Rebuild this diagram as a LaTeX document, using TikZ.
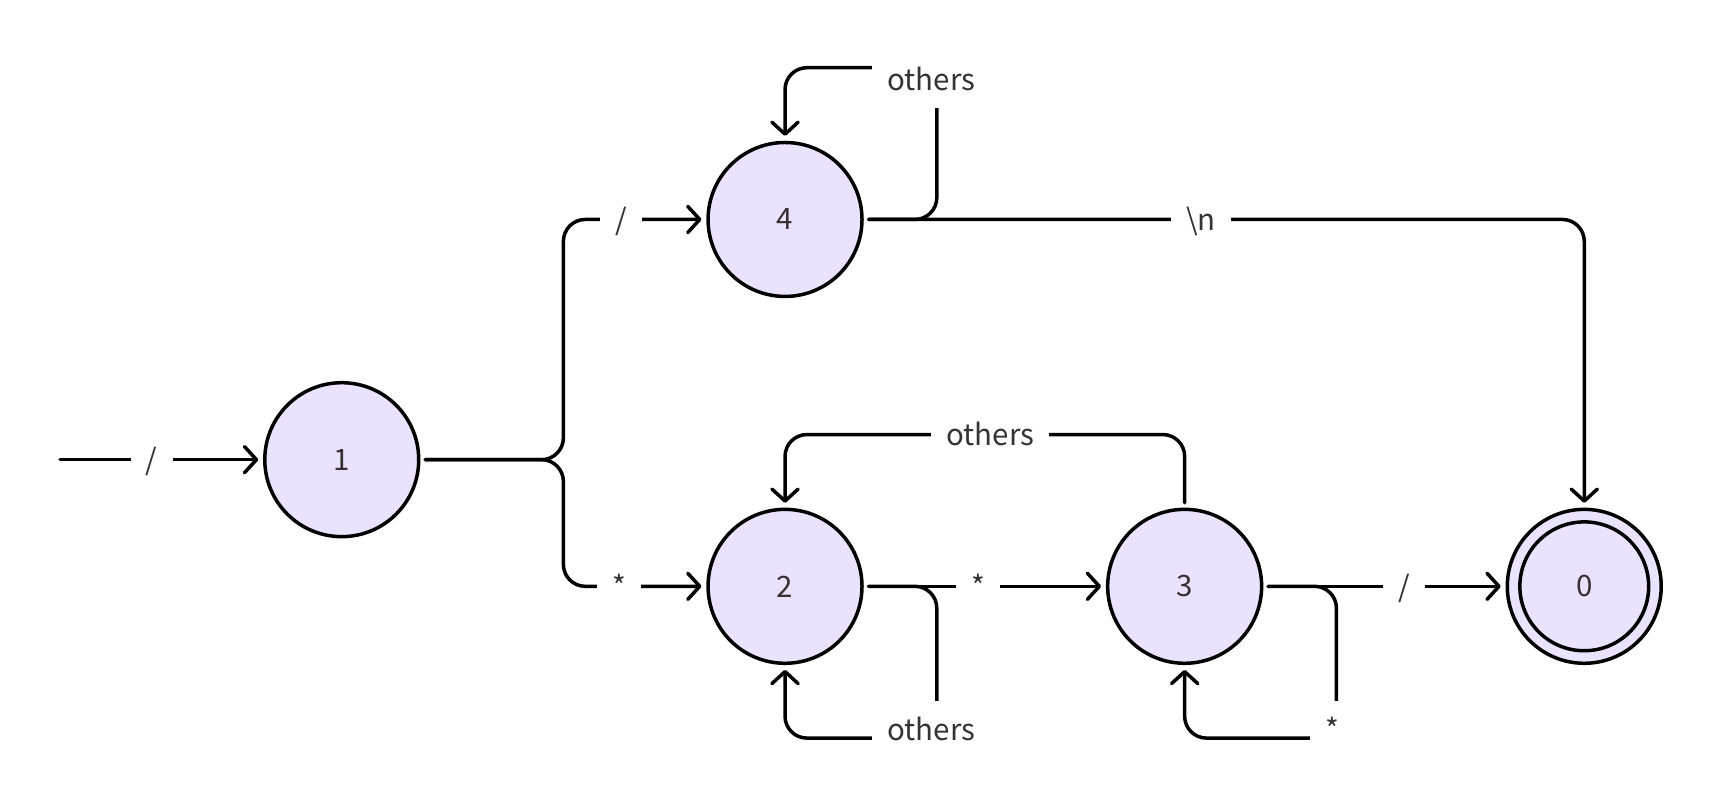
\documentclass[tikz,border=0pt]{standalone}
\usepackage{fontspec}
\setmainfont{Noto Sans CJK SC}
\usetikzlibrary{arrows.meta}
\definecolor{statefill}{RGB}{233,227,255}
\definecolor{txt}{RGB}{51,51,51}
\begin{document}
\begin{tikzpicture}[x=1pt,y=-1pt,
  state/.style={circle, draw, line width=3.2pt, fill=statefill, minimum size=141pt, inner sep=0pt, outer sep=6pt, text=txt, font=\fontsize{27}{32}\selectfont},
  edge/.style={line width=3.2pt, rounded corners=20pt, line cap=round, -{Straight Barb[length=11pt,width=24pt,line cap=round,line join=round]}},
  lbl/.style={fill=white, text=txt, inner xsep=14pt, inner ysep=14pt, text height=22pt, text depth=2pt, font=\fontsize{27}{32}\selectfont}]
\fill[white] (0,0) rectangle (1568,736);
\useasboundingbox (0,0) rectangle (1568,736);

\node[state] (n1) at (313,421) {1};
\node[state] (n4) at (719,201) {4};
\node[state] (n2) at (719,537) {2};
\node[state] (n3) at (1085,537) {3};
\node[state] (n0) at (1451,537) {0};
\draw[line width=3.2pt] (n0.center) circle[radius=59pt];

\coordinate (st) at (55,421);
\coordinate (br) at (516,421);
\coordinate (t3) at (1085,398);

\draw[edge] (st) -- (n1);
\draw[edge] (n1) -- (br) |- (n4);
\draw[edge] (n1) -- (br) |- (n2);
\draw[edge] (n4.east) -| (858,62) -| (n4.north);
\draw[edge] (n4) -| (n0);
\draw[edge] (n3.north) -- (t3) -| (n2.north);
\draw[edge] (n2) -- (n3);
\draw[edge] (n2.east) -| (858,676) -| (n2.south);
\draw[edge] (n3) -- (n0);
\draw[edge] (n3.east) -| (1224,676) -| (n3.south);

\node[lbl] (l1) at (139,421) {/};
\node[lbl] (l2) at (569,201) {/};
\node[lbl] (l3) at (567,537) {*};
\node[lbl] (l4) at (853,73) {others};
\node[lbl] (l5) at (1100,201) {\textbackslash n};
\node[lbl] (l6) at (907,398) {others};
\node[lbl] (l7) at (896,537) {*};
\node[lbl] (l8) at (853,668) {others};
\node[lbl] (l9) at (1286,537) {/};
\node[lbl] (l10) at (1220,668) {*};
\end{tikzpicture}
\end{document}
